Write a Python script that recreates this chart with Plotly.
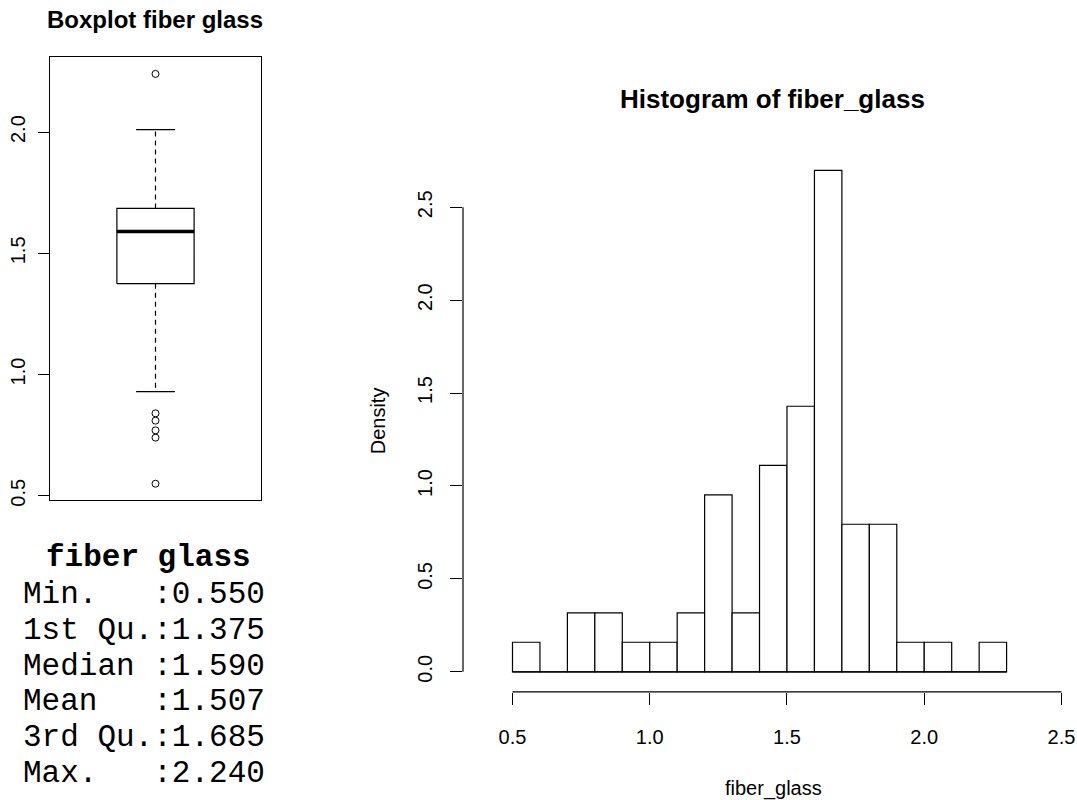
import plotly.graph_objects as go

# ---- data -------------------------------------------------------------
# histogram of fiber_glass (bin width 0.1, density scale)
bin_left = [0.5, 0.6, 0.7, 0.8, 0.9, 1.0, 1.1, 1.2, 1.3,
            1.4, 1.5, 1.6, 1.7, 1.8, 1.9, 2.0, 2.1, 2.2]
density = [0.159, 0.0, 0.317, 0.317, 0.159, 0.159, 0.317, 0.952, 0.317,
           1.111, 1.429, 2.698, 0.794, 0.794, 0.159, 0.159, 0.0, 0.159]
bin_width = 0.1

# boxplot statistics
whisker_low = 0.93
q1 = 1.375
median = 1.59
q3 = 1.685
whisker_high = 2.01
outliers = [0.55, 0.74, 0.77, 0.81, 0.84, 2.24]

# summary table
summary_labels = ["Min.   ", "1st Qu.", "Median ", "Mean   ", "3rd Qu.", "Max.   "]
summary_values = ["0.550", "1.375", "1.590", "1.507", "1.685", "2.240"]

box_ticks = [0.5, 1.0, 1.5, 2.0]
hist_xticks = [0.5, 1.0, 1.5, 2.0, 2.5]
hist_yticks = [0.0, 0.5, 1.0, 1.5, 2.0, 2.5]

# ---- page geometry (pixels) ------------------------------------------
W, H = 1077, 800
FONT = "Liberation Sans, Arial, sans-serif"
MONO = "Liberation Mono, Courier New, monospace"
LW = 1.2


def px(x):
    return x / W


def py(y):
    return 1 - y / H


fig = go.Figure()

# ---- boxplot ----------------------------------------------------------
cx = 1.0
half_box = 0.183
half_cap = 0.092
line = dict(color="black", width=LW)

fig.add_trace(go.Scatter(
    x=[cx - half_box, cx + half_box, cx + half_box, cx - half_box, cx - half_box],
    y=[q1, q1, q3, q3, q1], mode="lines", line=line,
    xaxis="x", yaxis="y", hoverinfo="skip"))
fig.add_trace(go.Scatter(
    x=[cx - half_box, cx + half_box], y=[median, median], mode="lines",
    line=dict(color="black", width=3.4), xaxis="x", yaxis="y", hoverinfo="skip"))
for a, b in [(q3, whisker_high), (q1, whisker_low)]:
    fig.add_trace(go.Scatter(
        x=[cx, cx], y=[a, b], mode="lines",
        line=dict(color="black", width=LW, dash="5px,4px"),
        xaxis="x", yaxis="y", hoverinfo="skip"))
for w in [whisker_high, whisker_low]:
    fig.add_trace(go.Scatter(
        x=[cx - half_cap, cx + half_cap], y=[w, w], mode="lines", line=line,
        xaxis="x", yaxis="y", hoverinfo="skip"))
fig.add_trace(go.Scatter(
    x=[cx] * len(outliers), y=outliers, mode="markers",
    marker=dict(symbol="circle-open", size=7, color="black", line=dict(width=1)),
    xaxis="x", yaxis="y", hoverinfo="skip"))

# ---- histogram --------------------------------------------------------
fig.add_trace(go.Bar(
    x=[b + bin_width / 2 for b in bin_left], y=density, width=bin_width,
    marker=dict(color="white", line=dict(color="black", width=LW)),
    xaxis="x2", yaxis="y2", hoverinfo="skip"))

# baseline under the bars (shows the empty bins)
fig.add_shape(type="line", xref="x2", yref="y2",
              x0=bin_left[0], x1=bin_left[-1] + bin_width, y0=0, y1=0, line=line)
# axis lines spanning first to last tick
fig.add_shape(type="line", xref="x2", yref="y2 domain",
              x0=hist_xticks[0], x1=hist_xticks[-1], y0=0, y1=0, line=line)
fig.add_shape(type="line", xref="x2 domain", yref="y2",
              x0=0, x1=0, y0=hist_yticks[0], y1=hist_yticks[-1], line=line)

tickfont = dict(family=FONT, size=20, color="black")

fig.update_layout(
    width=W, height=H,
    margin=dict(l=0, r=0, t=0, b=0),
    paper_bgcolor="white", plot_bgcolor="white",
    showlegend=False,
    xaxis=dict(domain=[px(50), px(261)], range=[0.5, 1.5],
               showline=True, mirror=True, linecolor="black", linewidth=LW,
               showgrid=False, zeroline=False, ticks="", showticklabels=False,
               fixedrange=True),
    yaxis=dict(domain=[py(504.5), py(58)], range=[0.4824, 2.3076],
               showline=True, mirror=True, linecolor="black", linewidth=LW,
               showgrid=False, zeroline=False,
               ticks="outside", ticklen=11, tickwidth=LW, tickcolor="black",
               tickvals=box_ticks, ticktext=[f"{v:.1f}" for v in box_ticks],
               tickangle=-90, tickfont=tickfont, ticklabelstandoff=5,
               fixedrange=True),
    xaxis2=dict(domain=[px(463), 1.0], range=[0.3197, 2.5565], anchor="y2",
                showline=False, showgrid=False, zeroline=False,
                ticks="outside", ticklen=12, tickwidth=LW, tickcolor="black",
                tickvals=hist_xticks, ticktext=[f"{v:.1f}" for v in hist_xticks],
                tickfont=tickfont, ticklabelstandoff=15, fixedrange=True),
    yaxis2=dict(domain=[py(698), py(151.7)], range=[-0.108, 2.806], anchor="x2",
                showline=False, showgrid=False, zeroline=False,
                ticks="outside", ticklen=12, tickwidth=LW, tickcolor="black",
                tickvals=hist_yticks, ticktext=[f"{v:.1f}" for v in hist_yticks],
                tickangle=-90, tickfont=tickfont, ticklabelstandoff=10,
                fixedrange=True),
)

annotations = [
    dict(text="<b>Boxplot fiber glass</b>", x=px(155), y=py(20),
         font=dict(family=FONT, size=24, color="black")),
    dict(text="<b>Histogram of fiber_glass</b>", x=px(772), y=py(100),
         font=dict(family=FONT, size=26, color="black")),
    dict(text="Density", x=px(378), y=py(425), textangle=-90,
         font=dict(family=FONT, size=20, color="black")),
    dict(text="fiber_glass", x=px(773), y=py(795),
         font=dict(family=FONT, size=20, color="black")),
    dict(text="<b>fiber glass</b>", x=px(44), y=py(562), xanchor="left",
         font=dict(family=MONO, size=31, color="black")),
]
for i, (lab, val) in enumerate(zip(summary_labels, summary_values)):
    annotations.append(dict(
        text=(lab + ":" + val).replace(" ", "\u00a0"),
        x=px(21), y=py(600 + i * 36), xanchor="left",
        font=dict(family=MONO, size=31, color="black")))

for a in annotations:
    a.setdefault("xanchor", "center")
    a.update(xref="paper", yref="paper", yanchor="middle", showarrow=False)
fig.update_layout(annotations=annotations)

fig.write_html("out.html", config={"displayModeBar": False})
